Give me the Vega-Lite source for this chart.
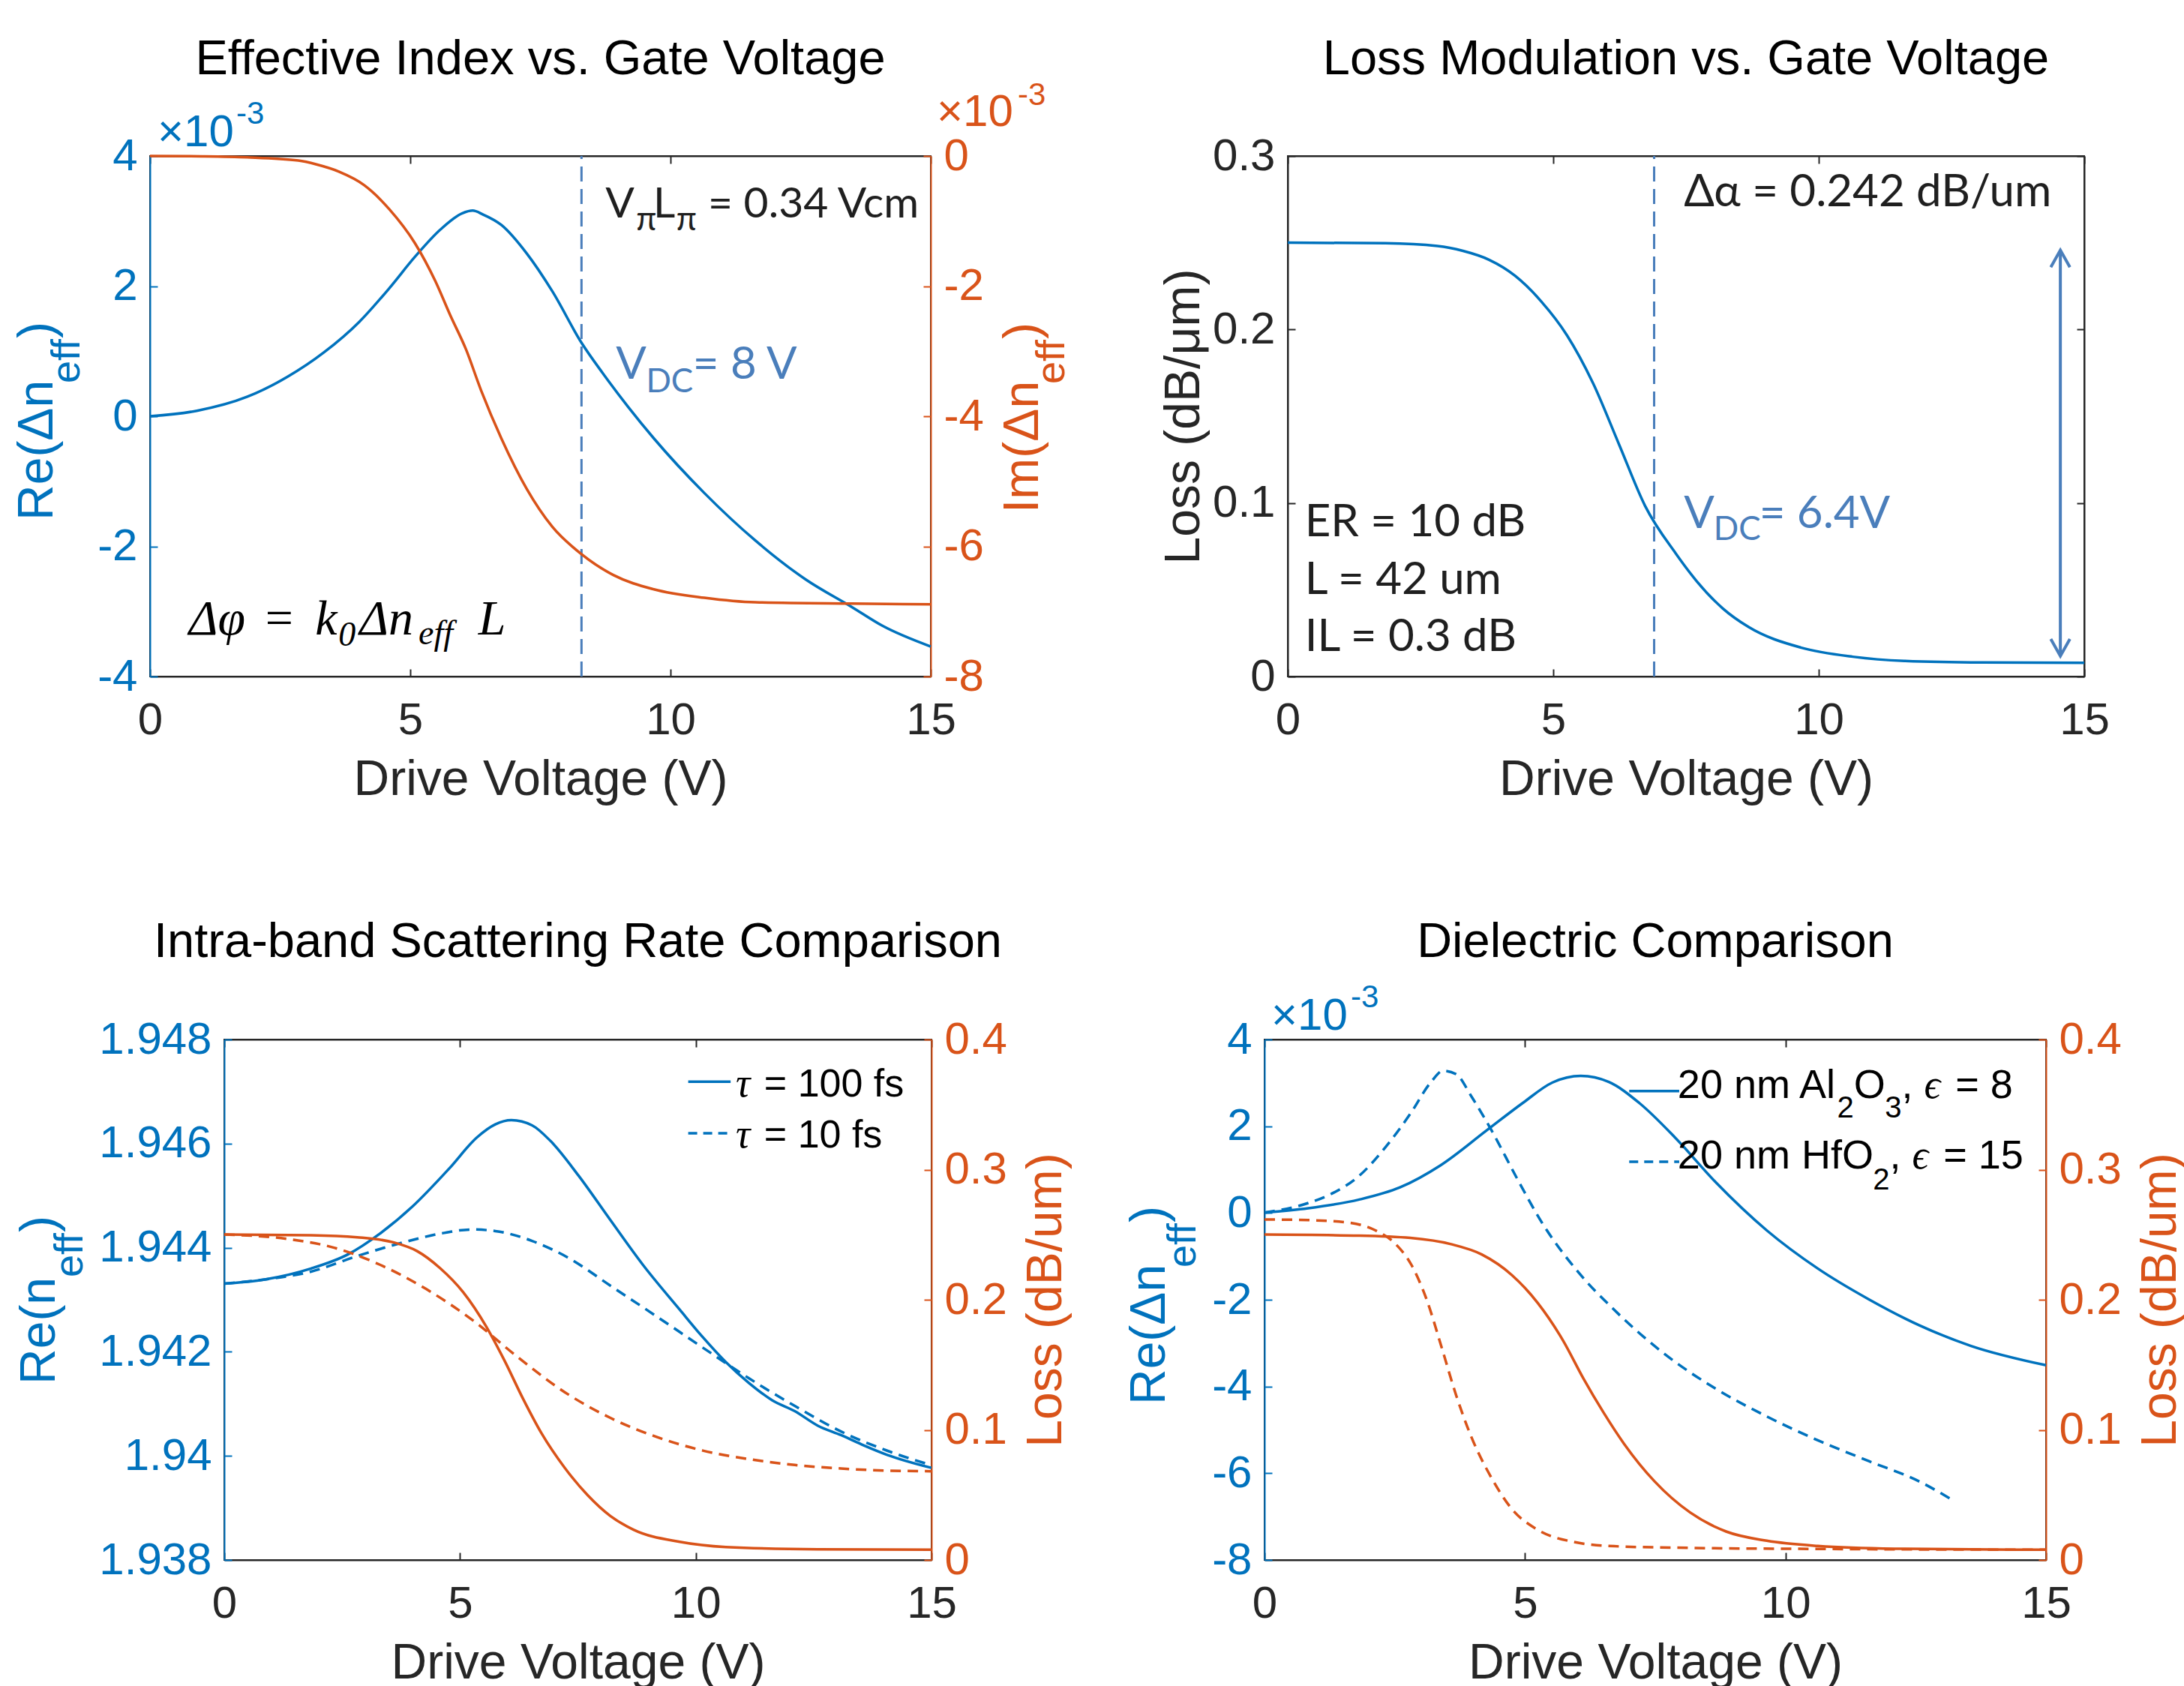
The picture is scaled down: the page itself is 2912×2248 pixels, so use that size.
{
"background": "white",
"padding": 0,
"spacing": 0,
"config": {
 "view": {"stroke": "#262626", "strokeWidth": 2},
 "font": "Liberation Sans",
 "axis": {"grid": false, "labelFont": "Liberation Sans", "labelFontSize": 60, "labelColor": "#262626", "titleFont": "Liberation Sans", "titleFontSize": 66, "titleFontWeight": "normal", "titleColor": "#262626", "tickColor": "#262626", "domainColor": "#262626", "tickSize": -10, "tickWidth": 2, "domainWidth": 2, "labelFlush": false, "labelOverlap": false},
 "axisX": {"labelPadding": 39, "titlePadding": 17},
 "axisY": {"labelPadding": 27, "titlePadding": 4}
},
"vconcat": [
 {"spacing": 0, "hconcat": [
 {"width": 1, "height": 694, "data": {"values": [{"x": 0}]}, "mark": {"type": "rect", "opacity": 0}, "view": {"stroke": null}},
 {
  "width": 1041, "height": 694,
  "resolve": {"scale": {"y": "independent"}, "axis": {"x": "independent", "y": "independent"}},
  "layer": [
   {
    "encoding": {
     "x": {"field": "x", "type": "quantitative", "scale": {"domain": [0, 15], "nice": false, "zero": false}, "axis": {"orient": "bottom", "values": [0, 5, 10, 15], "title": "Drive Voltage (V)", "labelExpr": "'' + datum.value"}},
     "y": {"field": "y", "type": "quantitative", "scale": {"domain": [-4, 4], "nice": false, "zero": false}, "axis": {"orient": "left", "values": [-4, -2, 0, 2, 4], "title": null, "labelExpr": "'' + datum.value", "labelColor": "#0072BD", "tickColor": "#0072BD", "domainColor": "#0072BD"}}
    },
    "layer": [
     {"data": {"values": [{"x": -2.853, "x2": 18.4294, "y": 6.3746, "y2": -6.7666}]}, "mark": {"type": "rect", "opacity": 0}, "encoding": {"x2": {"field": "x2"}, "y2": {"field": "y2"}}},
     {"data": {"values": [{"x":0,"y":0},{"x":0.9,"y":0.084},{"x":1.87,"y":0.3},{"x":2.65,"y":0.61},{"x":3.34,"y":0.98},{"x":4.02,"y":1.45},{"x":4.6,"y":1.97},{"x":5.09,"y":2.45},{"x":5.58,"y":2.87},{"x":6.0,"y":3.12},{"x":6.2,"y":3.16},{"x":6.4,"y":3.1},{"x":6.75,"y":2.94},{"x":7.24,"y":2.5},{"x":7.73,"y":1.92},{"x":8.29,"y":1.13},{"x":8.7,"y":0.66},{"x":9.19,"y":0.14},{"x":9.68,"y":-0.34},{"x":10.65,"y":-1.18},{"x":11.63,"y":-1.91},{"x":12.6,"y":-2.51},{"x":13.48,"y":-2.93},{"x":14.07,"y":-3.22},{"x":15,"y":-3.54}]},
      "mark": {"type": "line", "color": "#0072BD", "strokeWidth": 3.5, "interpolate": "monotone"}, "encoding": {}},
     {"data": {"values": [{"x": 8.29, "y": -4, "y2": 4}]}, "mark": {"type": "rule", "color": "#4A7EBB", "strokeWidth": 3, "strokeDash": [20, 10]}, "encoding": {"y2": {"field": "y2"}}},
     {"data": {"values": [{"x": 7.5, "y": 5.256, "text": "Effective Index vs. Gate Voltage"}]}, "mark": {"type": "text", "font": "Liberation Sans", "fontSize": 65, "color": "#000000", "align": "center", "baseline": "alphabetic"}, "encoding": {"text": {"field": "text"}}},
     {"data": {"values": [{"x": 0.144, "y": 4.15, "text": "×10"}]}, "mark": {"type": "text", "font": "Liberation Sans", "fontSize": 60, "color": "#0072BD", "align": "left", "baseline": "alphabetic"}, "encoding": {"text": {"field": "text"}}},
     {"data": {"values": [{"x": 1.657, "y": 4.496, "text": "-3"}]}, "mark": {"type": "text", "font": "Liberation Sans", "fontSize": 42, "color": "#0072BD", "align": "left", "baseline": "alphabetic"}, "encoding": {"text": {"field": "text"}}},
     {"data": {"values": [{"x": 15.115, "y": 4.461, "text": "×10"}]}, "mark": {"type": "text", "font": "Liberation Sans", "fontSize": 60, "color": "#D95319", "align": "left", "baseline": "alphabetic"}, "encoding": {"text": {"field": "text"}}},
     {"data": {"values": [{"x": 16.67, "y": 4.784, "text": "-3"}]}, "mark": {"type": "text", "font": "Liberation Sans", "fontSize": 42, "color": "#D95319", "align": "left", "baseline": "alphabetic"}, "encoding": {"text": {"field": "text"}}},
     {"data": {"values": [{"x": -1.873, "y": -1.602, "text": "Re(Δn"}, {"x": -1.873, "y": 1.199, "text": ")"}]}, "mark": {"type": "text", "font": "Liberation Sans", "fontSize": 66, "color": "#0072BD", "align": "left", "baseline": "alphabetic", "angle": 270}, "encoding": {"text": {"field": "text"}}},
     {"data": {"values": [{"x": -1.354, "y": 0.507, "text": "eff"}]}, "mark": {"type": "text", "font": "Liberation Sans", "fontSize": 54, "color": "#0072BD", "align": "left", "baseline": "alphabetic", "angle": 270}, "encoding": {"text": {"field": "text"}}},
     {"data": {"values": [{"x": 17.06, "y": -1.487, "text": "Im(Δn"}, {"x": 17.06, "y": 1.187, "text": ")"}]}, "mark": {"type": "text", "font": "Liberation Sans", "fontSize": 66, "color": "#D95319", "align": "left", "baseline": "alphabetic", "angle": 270}, "encoding": {"text": {"field": "text"}}},
     {"data": {"values": [{"x": 17.565, "y": 0.496, "text": "eff"}]}, "mark": {"type": "text", "font": "Liberation Sans", "fontSize": 54, "color": "#D95319", "align": "left", "baseline": "alphabetic", "angle": 270}, "encoding": {"text": {"field": "text"}}},
     {"data": {"values": [{"x": 8.75, "y": 3.055, "text": "V"}, {"x": 9.67, "y": 3.055, "text": "L"}, {"x": 10.72, "y": 3.055, "text": "= 0.34 Vcm"}]}, "mark": {"type": "text", "font": "Lato", "fontSize": 57, "color": "#1F1F1F", "align": "left", "baseline": "alphabetic"}, "encoding": {"text": {"field": "text"}}},
     {"data": {"values": [{"x": 9.34, "y": 2.859, "text": "π"}, {"x": 10.11, "y": 2.859, "text": "π"}]}, "mark": {"type": "text", "font": "Lato", "fontSize": 44, "color": "#1F1F1F", "align": "left", "baseline": "alphabetic"}, "encoding": {"text": {"field": "text"}}},
     {"data": {"values": [{"x": 8.95, "y": 0.582, "text": "V"}, {"x": 10.43, "y": 0.582, "text": "= 8 V"}]}, "mark": {"type": "text", "font": "Lato", "fontSize": 60, "color": "#4A7EBB", "align": "left", "baseline": "alphabetic"}, "encoding": {"text": {"field": "text"}}},
     {"data": {"values": [{"x": 9.53, "y": 0.369, "text": "DC"}]}, "mark": {"type": "text", "font": "Lato", "fontSize": 44, "color": "#4A7EBB", "align": "left", "baseline": "alphabetic"}, "encoding": {"text": {"field": "text"}}},
     {"data": {"values": [{"x": 0.747, "y": -3.354, "text": "Δφ"}, {"x": 2.155, "y": -3.354, "text": "="}, {"x": 3.175, "y": -3.354, "text": "k"}, {"x": 4.023, "y": -3.354, "text": "Δn"}, {"x": 6.307, "y": -3.354, "text": "L"}]}, "mark": {"type": "text", "font": "Liberation Serif", "fontStyle": "italic", "fontSize": 66, "color": "#000000", "align": "left", "baseline": "alphabetic"}, "encoding": {"text": {"field": "text"}}},
     {"data": {"values": [{"x": 3.62, "y": -3.53, "text": "0"}, {"x": 5.158, "y": -3.51, "text": "eff"}]}, "mark": {"type": "text", "font": "Liberation Serif", "fontStyle": "italic", "fontSize": 46, "color": "#000000", "align": "left", "baseline": "alphabetic"}, "encoding": {"text": {"field": "text"}}}
    ]
   },
   {
    "encoding": {
     "x": {"field": "x", "type": "quantitative", "scale": {"domain": [0, 15], "nice": false, "zero": false}, "axis": {"orient": "top", "values": [0, 5, 10, 15], "labels": false, "title": null}},
     "y": {"field": "y", "type": "quantitative", "scale": {"domain": [-8, 0], "nice": false, "zero": false}, "axis": {"orient": "right", "values": [-8, -6, -4, -2, 0], "title": null, "labelExpr": "'' + datum.value", "labelColor": "#D95319", "tickColor": "#D95319", "domainColor": "#D95319"}}
    },
    "layer": [
     {"data": {"values": [{"x":0,"y":0},{"x":1,"y":-0.005},{"x":1.87,"y":-0.02},{"x":2.85,"y":-0.07},{"x":3.2,"y":-0.13},{"x":3.63,"y":-0.24},{"x":4.12,"y":-0.45},{"x":4.6,"y":-0.82},{"x":5.09,"y":-1.34},{"x":5.48,"y":-1.92},{"x":5.77,"y":-2.45},{"x":6.07,"y":-2.97},{"x":6.36,"y":-3.6},{"x":6.75,"y":-4.34},{"x":7.24,"y":-5.12},{"x":7.73,"y":-5.7},{"x":8.29,"y":-6.12},{"x":8.9,"y":-6.44},{"x":9.68,"y":-6.66},{"x":10.65,"y":-6.79},{"x":11.63,"y":-6.86},{"x":13.48,"y":-6.88},{"x":15,"y":-6.89}]},
      "mark": {"type": "line", "color": "#D95319", "strokeWidth": 3.5, "interpolate": "monotone"}, "encoding": {}}
    ]
   }
  ]
 },
 {
  "width": 1062, "height": 694,
  "resolve": {"scale": {"y": "independent"}, "axis": {"x": "independent", "y": "independent"}},
  "layer": [
   {
    "encoding": {
     "x": {"field": "x", "type": "quantitative", "scale": {"domain": [0, 15], "nice": false, "zero": false}, "axis": {"orient": "bottom", "values": [0, 5, 10, 15], "title": "Drive Voltage (V)", "labelExpr": "'' + datum.value"}},
     "y": {"field": "y", "type": "quantitative", "scale": {"domain": [0, 0.3], "nice": false, "zero": false}, "axis": {"orient": "left", "values": [0, 0.1, 0.2, 0.3], "title": "Loss (dB/μm)", "labelExpr": "'' + datum.value"}}
    },
    "layer": [
     {"data": {"values": [{"x": -3.3192, "x2": 16.935, "y": 0.38905, "y2": -0.10375}]}, "mark": {"type": "rect", "opacity": 0}, "encoding": {"x2": {"field": "x2"}, "y2": {"field": "y2"}}},
     {"data": {"values": [{"x":0,"y":0.2501},{"x":1.84,"y":0.2497},{"x":2.82,"y":0.2481},{"x":3.3,"y":0.2453},{"x":3.79,"y":0.2402},{"x":4.28,"y":0.231},{"x":4.77,"y":0.2163},{"x":5.26,"y":0.1966},{"x":5.75,"y":0.169},{"x":6.24,"y":0.1337},{"x":6.73,"y":0.0983},{"x":7.31,"y":0.0708},{"x":7.7,"y":0.055},{"x":8.19,"y":0.0393},{"x":8.68,"y":0.0285},{"x":9.66,"y":0.0167},{"x":10.64,"y":0.0114},{"x":11.61,"y":0.009},{"x":13.08,"y":0.0081},{"x":15,"y":0.0079}]},
      "mark": {"type": "line", "color": "#0072BD", "strokeWidth": 3.5, "interpolate": "monotone"}, "encoding": {}},
     {"data": {"values": [{"x": 6.9, "y": 0, "y2": 0.3}]}, "mark": {"type": "rule", "color": "#4A7EBB", "strokeWidth": 3, "strokeDash": [20, 10]}, "encoding": {"y2": {"field": "y2"}}},
     {"data": {"values": [{"x": 7.5, "y": 0.3471, "text": "Loss Modulation vs. Gate Voltage"}]}, "mark": {"type": "text", "font": "Liberation Sans", "fontSize": 65, "color": "#000000", "align": "center", "baseline": "alphabetic"}, "encoding": {"text": {"field": "text"}}},
     {"data": {"values": [{"x": 7.46, "y": 0.2709, "text": "Δα = 0.242 dB/um"}, {"x": 0.32, "y": 0.081, "text": "ER = 10 dB"}, {"x": 0.32, "y": 0.0476, "text": "L = 42 um"}, {"x": 0.32, "y": 0.01455, "text": "IL = 0.3 dB"}]}, "mark": {"type": "text", "font": "Lato", "fontSize": 60, "color": "#1F1F1F", "align": "left", "baseline": "alphabetic"}, "encoding": {"text": {"field": "text"}}},
     {"data": {"values": [{"x": 7.46, "y": 0.0855, "text": "V"}, {"x": 8.88, "y": 0.0855, "text": "= 6.4V"}]}, "mark": {"type": "text", "font": "Lato", "fontSize": 60, "color": "#4A7EBB", "align": "left", "baseline": "alphabetic"}, "encoding": {"text": {"field": "text"}}},
     {"data": {"values": [{"x": 8.02, "y": 0.0786, "text": "DC"}]}, "mark": {"type": "text", "font": "Lato", "fontSize": 44, "color": "#4A7EBB", "align": "left", "baseline": "alphabetic"}, "encoding": {"text": {"field": "text"}}}
    ]
   },
   {
    "encoding": {
     "x": {"field": "x", "type": "quantitative", "scale": {"domain": [0, 15], "nice": false, "zero": false}, "axis": {"orient": "top", "values": [0, 5, 10, 15], "labels": false, "title": null}},
     "y": {"field": "y", "type": "quantitative", "scale": {"domain": [0, 0.3], "nice": false, "zero": false}, "axis": {"orient": "right", "values": [0, 0.1, 0.2, 0.3], "labels": false, "title": null}}
    },
    "layer": [
     {"data": {"values": [{"x": 14.55, "y": 0.0118, "y2": 0.2457}]}, "mark": {"type": "rule", "color": "#4A7EBB", "strokeWidth": 4}, "encoding": {"y2": {"field": "y2"}}},
     {"data": {"values": [{"part": "t", "x": 14.37, "y": 0.2359}, {"part": "t", "x": 14.55, "y": 0.2457}, {"part": "t", "x": 14.73, "y": 0.2359}, {"part": "b", "x": 14.37, "y": 0.0216}, {"part": "b", "x": 14.55, "y": 0.0118}, {"part": "b", "x": 14.73, "y": 0.0216}]}, "mark": {"type": "line", "color": "#4A7EBB", "strokeWidth": 4}, "encoding": {"detail": {"field": "part"}}}
    ]
   }
  ]
 }
 ]},
 {"spacing": 0, "hconcat": [
 {"width": 1, "height": 694, "data": {"values": [{"x": 0}]}, "mark": {"type": "rect", "opacity": 0}, "view": {"stroke": null}},
 {
  "width": 943, "height": 694,
  "resolve": {"scale": {"y": "independent"}, "axis": {"x": "independent", "y": "independent"}},
  "layer": [
   {
    "encoding": {
     "x": {"field": "x", "type": "quantitative", "scale": {"domain": [0, 15], "nice": false, "zero": false}, "axis": {"orient": "bottom", "values": [0, 5, 10, 15], "title": "Drive Voltage (V)", "labelExpr": "'' + datum.value"}},
     "y": {"field": "y", "type": "quantitative", "scale": {"domain": [1.938, 1.948], "nice": false, "zero": false}, "axis": {"orient": "left", "values": [1.938, 1.94, 1.942, 1.944, 1.946, 1.948], "title": null, "labelExpr": "'' + datum.value", "labelColor": "#0072BD", "tickColor": "#0072BD", "domainColor": "#0072BD"}}
    },
    "layer": [
     {"data": {"values": [{"x": -4.7084, "x2": 18.499, "y": 1.951458, "y2": 1.9354928}]}, "mark": {"type": "rect", "opacity": 0}, "encoding": {"x2": {"field": "x2"}, "y2": {"field": "y2"}}},
     {"data": {"values": [{"x":0,"y":1.94331},{"x":0.86,"y":1.94339},{"x":1.84,"y":1.9436},{"x":2.62,"y":1.94387},{"x":3.3,"y":1.94427},{"x":3.99,"y":1.94479},{"x":4.77,"y":1.94552},{"x":5.36,"y":1.94612},{"x":5.75,"y":1.94637},{"x":6.09,"y":1.94645},{"x":6.53,"y":1.94635},{"x":6.92,"y":1.94605},{"x":7.51,"y":1.94539},{"x":8.19,"y":1.94453},{"x":8.88,"y":1.94367},{"x":9.66,"y":1.94281},{"x":10.15,"y":1.94228},{"x":10.64,"y":1.9418},{"x":11.13,"y":1.9414},{"x":11.62,"y":1.94107},{"x":12.1,"y":1.94086},{"x":12.59,"y":1.94058},{"x":13.08,"y":1.9404},{"x":13.57,"y":1.9402},{"x":14.06,"y":1.94002},{"x":15,"y":1.93977}]},
      "mark": {"type": "line", "color": "#0072BD", "strokeWidth": 3.5, "interpolate": "monotone"}, "encoding": {}},
     {"data": {"values": [{"x":0,"y":1.94331},{"x":0.86,"y":1.94339},{"x":1.84,"y":1.94354},{"x":2.82,"y":1.94384},{"x":3.79,"y":1.9441},{"x":4.58,"y":1.94427},{"x":5.26,"y":1.94435},{"x":5.75,"y":1.94432},{"x":6.53,"y":1.94413},{"x":7.31,"y":1.9438},{"x":8.19,"y":1.94327},{"x":9.17,"y":1.94268},{"x":10.15,"y":1.94208},{"x":11.13,"y":1.94149},{"x":12.1,"y":1.94096},{"x":13.08,"y":1.94047},{"x":14.06,"y":1.9401},{"x":15,"y":1.93982}]},
      "mark": {"type": "line", "color": "#0072BD", "strokeWidth": 3.5, "strokeDash": [14, 9], "interpolate": "monotone"}, "encoding": {}},
     {"data": {"values": [{"x": 7.5, "y": 1.949585, "text": "Intra-band Scattering Rate Comparison"}]}, "mark": {"type": "text", "font": "Liberation Sans", "fontSize": 65, "color": "#000000", "align": "center", "baseline": "alphabetic"}, "encoding": {"text": {"field": "text"}}},
     {"data": {"values": [{"x": -3.595, "y": 1.941372, "text": "Re(n"}, {"x": -3.595, "y": 1.944297, "text": ")"}]}, "mark": {"type": "text", "font": "Liberation Sans", "fontSize": 66, "color": "#0072BD", "align": "left", "baseline": "alphabetic", "angle": 270}, "encoding": {"text": {"field": "text"}}},
     {"data": {"values": [{"x": -3.006, "y": 1.943432, "text": "eff"}]}, "mark": {"type": "text", "font": "Liberation Sans", "fontSize": 54, "color": "#0072BD", "align": "left", "baseline": "alphabetic", "angle": 270}, "encoding": {"text": {"field": "text"}}},
     {"data": {"values": [{"x": 9.84, "y": 1.94719}, {"x": 10.74, "y": 1.94719}]}, "mark": {"type": "line", "color": "#0072BD", "strokeWidth": 3.5}, "encoding": {}},
     {"data": {"values": [{"x": 9.84, "y": 1.9462}, {"x": 10.74, "y": 1.9462}]}, "mark": {"type": "line", "color": "#0072BD", "strokeWidth": 3.5, "strokeDash": [12, 8]}, "encoding": {}},
     {"data": {"values": [{"x": 10.85, "y": 1.94691, "text": "τ"}, {"x": 10.85, "y": 1.94592, "text": "τ"}]}, "mark": {"type": "text", "font": "Liberation Serif", "fontStyle": "italic", "fontSize": 54, "color": "#000000", "align": "left", "baseline": "alphabetic"}, "encoding": {"text": {"field": "text"}}},
     {"data": {"values": [{"x": 11.45, "y": 1.94691, "text": "= 100 fs"}, {"x": 11.45, "y": 1.94592, "text": "= 10 fs"}]}, "mark": {"type": "text", "font": "Liberation Sans", "fontSize": 52, "color": "#000000", "align": "left", "baseline": "alphabetic"}, "encoding": {"text": {"field": "text"}}}
    ]
   },
   {
    "encoding": {
     "x": {"field": "x", "type": "quantitative", "scale": {"domain": [0, 15], "nice": false, "zero": false}, "axis": {"orient": "top", "values": [0, 5, 10, 15], "labels": false, "title": null}},
     "y": {"field": "y", "type": "quantitative", "scale": {"domain": [0, 0.4], "nice": false, "zero": false}, "axis": {"orient": "right", "values": [0, 0.1, 0.2, 0.3, 0.4], "labelExpr": "'' + datum.value", "title": "Loss (dB/um)", "titleColor": "#D95319", "titleAngle": 270, "titleBaseline": "top", "titlePadding": 20, "labelColor": "#D95319", "tickColor": "#D95319", "domainColor": "#D95319"}}
    },
    "layer": [
     {"data": {"values": [{"x":0,"y":0.2501},{"x":1.84,"y":0.2496},{"x":2.82,"y":0.248},{"x":3.6,"y":0.244},{"x":4.09,"y":0.2374},{"x":4.58,"y":0.2242},{"x":5.07,"y":0.2057},{"x":5.56,"y":0.1792},{"x":5.95,"y":0.1528},{"x":6.34,"y":0.1237},{"x":6.73,"y":0.0973},{"x":7.22,"y":0.0709},{"x":7.71,"y":0.0497},{"x":8.19,"y":0.0338},{"x":8.68,"y":0.0233},{"x":9.66,"y":0.014},{"x":10.64,"y":0.01},{"x":12.59,"y":0.0082},{"x":15,"y":0.0079}]},
      "mark": {"type": "line", "color": "#D95319", "strokeWidth": 3.5, "interpolate": "monotone"}, "encoding": {}},
     {"data": {"values": [{"x":0,"y":0.2501},{"x":1.35,"y":0.2467},{"x":2.33,"y":0.24},{"x":3.31,"y":0.2268},{"x":4.28,"y":0.2083},{"x":5.26,"y":0.1845},{"x":6.24,"y":0.1555},{"x":7.22,"y":0.129},{"x":8.19,"y":0.1092},{"x":9.17,"y":0.0946},{"x":10.15,"y":0.0841},{"x":11.13,"y":0.0775},{"x":12.1,"y":0.073},{"x":13.08,"y":0.0703},{"x":14.06,"y":0.0687},{"x":15,"y":0.0682}]},
      "mark": {"type": "line", "color": "#D95319", "strokeWidth": 3.5, "strokeDash": [14, 9], "interpolate": "monotone"}, "encoding": {}}
    ]
   }
  ]
 },
 {
  "width": 1042, "height": 694,
  "resolve": {"scale": {"y": "independent"}, "axis": {"x": "independent", "y": "independent"}},
  "layer": [
   {
    "encoding": {
     "x": {"field": "x", "type": "quantitative", "scale": {"domain": [0, 15], "nice": false, "zero": false}, "axis": {"orient": "bottom", "values": [0, 5, 10, 15], "title": "Drive Voltage (V)", "labelExpr": "'' + datum.value"}},
     "y": {"field": "y", "type": "quantitative", "scale": {"domain": [-8, 4], "nice": false, "zero": false}, "axis": {"orient": "left", "values": [-8, -6, -4, -2, 0, 2, 4], "title": null, "labelExpr": "'' + datum.value", "labelColor": "#0072BD", "tickColor": "#0072BD", "domainColor": "#0072BD"}}
    },
    "layer": [
     {"data": {"values": [{"x": -3.1814, "x2": 17.72, "y": 8.1499, "y2": -11.0087}]}, "mark": {"type": "rect", "opacity": 0}, "encoding": {"x2": {"field": "x2"}, "y2": {"field": "y2"}}},
     {"data": {"values": [{"x":0,"y":0.01},{"x":0.84,"y":0.11},{"x":1.82,"y":0.31},{"x":2.6,"y":0.59},{"x":3.38,"y":1.1},{"x":4.26,"y":1.9},{"x":4.95,"y":2.53},{"x":5.53,"y":3.01},{"x":6.07,"y":3.16},{"x":6.61,"y":3.02},{"x":7.2,"y":2.53},{"x":7.88,"y":1.74},{"x":8.66,"y":0.71},{"x":9.64,"y":-0.4},{"x":10.62,"y":-1.28},{"x":11.6,"y":-1.99},{"x":12.57,"y":-2.59},{"x":13.55,"y":-3.06},{"x":15,"y":-3.51}]},
      "mark": {"type": "line", "color": "#0072BD", "strokeWidth": 3.5, "interpolate": "monotone"}, "encoding": {}},
     {"data": {"values": [{"x":0,"y":0.01},{"x":0.84,"y":0.23},{"x":1.33,"y":0.47},{"x":1.82,"y":0.86},{"x":2.31,"y":1.5},{"x":2.8,"y":2.29},{"x":3.19,"y":3.01},{"x":3.43,"y":3.28},{"x":3.68,"y":3.2},{"x":3.97,"y":2.69},{"x":4.36,"y":1.9},{"x":4.85,"y":0.79},{"x":5.34,"y":-0.25},{"x":6.02,"y":-1.36},{"x":6.71,"y":-2.23},{"x":7.69,"y":-3.26},{"x":8.66,"y":-4.05},{"x":9.64,"y":-4.69},{"x":10.62,"y":-5.24},{"x":11.6,"y":-5.72},{"x":12.57,"y":-6.19},{"x":13.21,"y":-6.62}]},
      "mark": {"type": "line", "color": "#0072BD", "strokeWidth": 3.5, "strokeDash": [14, 9], "interpolate": "monotone"}, "encoding": {}},
     {"data": {"values": [{"x": 7.5, "y": 5.902, "text": "Dielectric Comparison"}]}, "mark": {"type": "text", "font": "Liberation Sans", "fontSize": 65, "color": "#000000", "align": "center", "baseline": "alphabetic"}, "encoding": {"text": {"field": "text"}}},
     {"data": {"values": [{"x": 0.13, "y": 4.225, "text": "×10"}]}, "mark": {"type": "text", "font": "Liberation Sans", "fontSize": 60, "color": "#0072BD", "align": "left", "baseline": "alphabetic"}, "encoding": {"text": {"field": "text"}}},
     {"data": {"values": [{"x": 1.655, "y": 4.744, "text": "-3"}]}, "mark": {"type": "text", "font": "Liberation Sans", "fontSize": 42, "color": "#0072BD", "align": "left", "baseline": "alphabetic"}, "encoding": {"text": {"field": "text"}}},
     {"data": {"values": [{"x": -1.915, "y": -4.421, "text": "Re(Δn"}, {"x": -1.915, "y": -0.219, "text": ")"}]}, "mark": {"type": "text", "font": "Liberation Sans", "fontSize": 66, "color": "#0072BD", "align": "left", "baseline": "alphabetic", "angle": 270}, "encoding": {"text": {"field": "text"}}},
     {"data": {"values": [{"x": -1.324, "y": -1.256, "text": "eff"}]}, "mark": {"type": "text", "font": "Liberation Sans", "fontSize": 54, "color": "#0072BD", "align": "left", "baseline": "alphabetic", "angle": 270}, "encoding": {"text": {"field": "text"}}},
     {"data": {"values": [{"x": 7.0, "y": 2.81}, {"x": 7.96, "y": 2.81}]}, "mark": {"type": "line", "color": "#0072BD", "strokeWidth": 3.5}, "encoding": {}},
     {"data": {"values": [{"x": 7.0, "y": 1.18}, {"x": 7.96, "y": 1.18}]}, "mark": {"type": "line", "color": "#0072BD", "strokeWidth": 3.5, "strokeDash": [12, 8]}, "encoding": {}},
     {"data": {"values": [{"x": 7.93, "y": 2.65, "text": "20 nm Al"}, {"x": 11.31, "y": 2.65, "text": "O"}, {"x": 12.23, "y": 2.65, "text": ","}, {"x": 13.26, "y": 2.65, "text": "= 8"}, {"x": 7.93, "y": 1.02, "text": "20 nm HfO"}, {"x": 12.0, "y": 1.02, "text": ","}, {"x": 13.03, "y": 1.02, "text": "= 15"}]}, "mark": {"type": "text", "font": "Liberation Sans", "fontSize": 54, "color": "#000000", "align": "left", "baseline": "alphabetic"}, "encoding": {"text": {"field": "text"}}},
     {"data": {"values": [{"x": 10.99, "y": 2.21, "text": "2"}, {"x": 11.91, "y": 2.21, "text": "3"}, {"x": 11.68, "y": 0.55, "text": "2"}]}, "mark": {"type": "text", "font": "Liberation Sans", "fontSize": 40, "color": "#000000", "align": "left", "baseline": "alphabetic"}, "encoding": {"text": {"field": "text"}}},
     {"data": {"values": [{"x": 12.66, "y": 2.65, "text": "ϵ"}, {"x": 12.43, "y": 1.02, "text": "ϵ"}]}, "mark": {"type": "text", "font": "Liberation Serif", "fontStyle": "italic", "fontSize": 54, "color": "#000000", "align": "left", "baseline": "alphabetic"}, "encoding": {"text": {"field": "text"}}}
    ]
   },
   {
    "encoding": {
     "x": {"field": "x", "type": "quantitative", "scale": {"domain": [0, 15], "nice": false, "zero": false}, "axis": {"orient": "top", "values": [0, 5, 10, 15], "labels": false, "title": null}},
     "y": {"field": "y", "type": "quantitative", "scale": {"domain": [0, 0.4], "nice": false, "zero": false}, "axis": {"orient": "right", "values": [0, 0.1, 0.2, 0.3, 0.4], "labelExpr": "'' + datum.value", "title": "Loss (dB/um)", "titleColor": "#D95319", "titleAngle": 270, "titleBaseline": "top", "titlePadding": 20, "labelColor": "#D95319", "tickColor": "#D95319", "domainColor": "#D95319"}}
    },
    "layer": [
     {"data": {"values": [{"x":0,"y":0.2501},{"x":1.82,"y":0.2493},{"x":2.8,"y":0.2475},{"x":3.58,"y":0.2427},{"x":4.17,"y":0.2348},{"x":4.75,"y":0.2189},{"x":5.24,"y":0.1978},{"x":5.73,"y":0.1687},{"x":6.12,"y":0.1396},{"x":6.51,"y":0.1132},{"x":6.9,"y":0.0894},{"x":7.49,"y":0.0603},{"x":8.17,"y":0.0365},{"x":8.86,"y":0.0219},{"x":9.64,"y":0.0148},{"x":10.62,"y":0.0108},{"x":12.09,"y":0.0087},{"x":15,"y":0.0079}]},
      "mark": {"type": "line", "color": "#D95319", "strokeWidth": 3.5, "interpolate": "monotone"}, "encoding": {}},
     {"data": {"values": [{"x":0,"y":0.2617},{"x":0.84,"y":0.2612},{"x":1.64,"y":0.2591},{"x":2.13,"y":0.2533},{"x":2.52,"y":0.2427},{"x":2.82,"y":0.2268},{"x":3.11,"y":0.2004},{"x":3.4,"y":0.1634},{"x":3.68,"y":0.1264},{"x":3.97,"y":0.0946},{"x":4.36,"y":0.0629},{"x":4.75,"y":0.0391},{"x":5.24,"y":0.0233},{"x":5.92,"y":0.014},{"x":6.71,"y":0.0106},{"x":8.17,"y":0.0093},{"x":10.62,"y":0.0085},{"x":15,"y":0.0079}]},
      "mark": {"type": "line", "color": "#D95319", "strokeWidth": 3.5, "strokeDash": [14, 9], "interpolate": "monotone"}, "encoding": {}}
    ]
   }
  ]
 }
 ]}
]
}
